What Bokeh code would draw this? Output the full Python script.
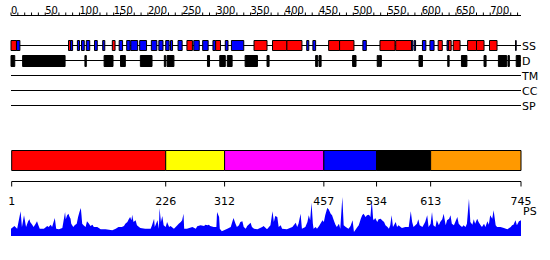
from bokeh.plotting import figure
from bokeh.models import Range1d, ColumnDataSource
from bokeh.core.properties import value
from bokeh.embed import file_html
from bokeh.resources import INLINE

# ---------------- data ----------------
seq_len = 745
ruler_minor = list(range(0, 741, 10))
ruler_labels = list(range(0, 701, 50))

# secondary structure: H = helix (red), E = strand (blue)
ss_start = [0, 8, 84, 87, 97, 103, 110, 122, 134, 148, 158, 169, 175, 188, 205, 216, 226, 233, 244, 257,
            267, 280, 295, 299, 313, 322, 355, 382, 403, 432, 441, 464, 480, 514, 539, 562, 585, 589, 601,
            612, 624, 637, 639, 646, 667, 680, 699, 737]
ss_end = [8, 13, 87, 90, 100, 107, 115, 126, 137, 152, 163, 174, 185, 198, 213, 222, 231, 236, 250, 265,
          275, 288, 299, 306, 317, 340, 374, 403, 425, 435, 445, 480, 501, 519, 561, 585, 587, 591, 606,
          618, 630, 639, 643, 656, 680, 691, 710, 738]
ss_type = ["H", "E", "H", "E", "E", "E", "E", "E", "E", "H", "E", "E", "E", "E", "E", "E", "E", "E", "E", "H",
           "E", "E", "E", "H", "E", "E", "H", "H", "H", "E", "E", "H", "H", "E", "H", "H", "E", "E", "E",
           "E", "H", "E", "H", "H", "H", "H", "H", "E"]

# disorder
d_start = [0, 17, 108, 136, 160, 189, 224, 228, 287, 305, 316, 342, 374, 445, 450, 499, 535, 538, 596,
           638, 658, 691, 712, 726, 738]
d_end = [5.5, 79, 110, 149, 167, 206, 226, 238, 290, 313, 323, 360, 377, 448, 453, 504, 537, 541, 601,
         640, 666, 694, 724, 728, 744]

track_names = ["SS", "D", "TM", "CC", "SP"]

# domains
dom_bounds = [1, 226, 312, 457, 534, 613, 745]
dom_colors = ["#ff0000", "#ffff00", "#ff00ff", "#0000ff", "#000000", "#ff9900"]

# PS profile (position, score)
ps_points = [
    (0, 7.3), (5, 10), (9, 7.3), (14, 24.7), (16, 9), (19, 20.7), (22, 9), (25, 14.7), (27, 16.7), (28, 14),
    (31, 11.3), (33, 9), (36, 12.3), (38, 14.7), (40, 10.7), (42, 7.3), (48, 7.3), (53, 10), (55, 9), (58, 11.3),
    (60, 9), (64, 18), (66, 7.3), (70, 6.7), (75, 8), (79, 24), (80, 16.7), (82, 20.7), (84, 22.3), (85, 20),
    (87, 17.3), (88, 12.3), (91, 9), (93, 10.7), (96, 12.3), (98, 19), (100, 24), (102, 28), (103, 20.7), (104, 12.3),
    (106, 10.7), (109, 9), (111, 14.7), (114, 12.3), (116, 10), (119, 11.3), (121, 9), (126, 9), (131, 6.7), (138, 6.7),
    (148, 5.7), (153, 7.3), (157, 9), (162, 9), (165, 10), (167, 12.3), (170, 14), (172, 16.7), (174, 19), (176, 15.7),
    (177, 21.3), (179, 14), (182, 15.7), (184, 10.7), (187, 9), (189, 8), (196, 7.3), (204, 7.3), (206, 10.7), (209, 17.3),
    (210, 9), (214, 15.7), (216, 7.3), (217, 28), (219, 14), (221, 20), (223, 10.7), (226, 9), (228, 14), (231, 9),
    (233, 10), (238, 7.3), (243, 10.7), (245, 12.3), (248, 14), (250, 15.7), (252, 22.3), (253, 7.3), (257, 7.3), (265, 9),
    (270, 7.3), (272, 9.7), (277, 10.7), (282, 10), (284, 11.3), (287, 10.7), (289, 11.3), (291, 10), (296, 9), (300, 9),
    (301, 24), (304, 19), (305, 7.3), (308, 4.7), (316, 7.3), (321, 9), (325, 18), (328, 12.3), (330, 9), (333, 10.7),
    (335, 14), (338, 14.7), (340, 9), (343, 7.3), (345, 10), (347, 11.3), (350, 13.3), (352, 9), (355, 7.3), (360, 6.7),
    (367, 9), (369, 10), (374, 6.7), (379, 10.7), (382, 24.7), (384, 14), (386, 20), (389, 19), (391, 9), (394, 10.7),
    (396, 7.3), (403, 6.7), (411, 9), (413, 10.7), (416, 13.3), (418, 9), (420, 12.3), (423, 22.3), (425, 7.3), (430, 9),
    (433, 14), (435, 20.7), (437, 15.7), (439, 33.3), (441, 12.3), (442, 7.3), (445, 9), (447, 7.3), (450, 10), (455, 15.7),
    (457, 14), (459, 20.7), (462, 28), (464, 26.7), (467, 22.3), (469, 20.7), (472, 14.7), (474, 11.3), (476, 9), (479, 12.3),
    (481, 7.3), (484, 39), (486, 10.7), (489, 9), (493, 7.3), (496, 10), (499, 15.7), (501, 4), (506, 9), (508, 10.7),
    (511, 17.3), (513, 20.7), (515, 22.3), (518, 19), (520, 20.7), (523, 21.3), (525, 19), (527, 35.7), (529, 17.3), (530, 15.7),
    (532, 18), (535, 14), (537, 16.7), (540, 17.3), (542, 15.7), (545, 14), (547, 10.7), (550, 9), (552, 7.3), (554, 10.7),
    (556, 20.7), (558, 9), (562, 14), (564, 9), (566, 10.7), (571, 8), (576, 9), (581, 9), (584, 24.7), (586, 14),
    (588, 9), (593, 12.3), (595, 16.7), (597, 10.7), (601, 9), (605, 14), (608, 20.7), (610, 9), (613, 12.3), (615, 24),
    (617, 10.7), (620, 9), (622, 15.7), (625, 10.7), (627, 14), (630, 16.7), (632, 22.3), (635, 10.7), (637, 15.7), (640, 17.3),
    (642, 20.7), (644, 12.3), (647, 10.7), (649, 14), (652, 19), (654, 12.3), (657, 10), (659, 9), (661, 10.7), (664, 9),
    (666, 12.3), (669, 37.3), (671, 14), (674, 11.3), (676, 16.7), (678, 12.3), (681, 17.3), (683, 14), (686, 10.7), (688, 9),
    (691, 12.3), (693, 9), (696, 14.7), (698, 11.3), (700, 20.7), (703, 17.3), (705, 25.7), (708, 10.7), (710, 9), (715, 9),
    (720, 8), (725, 6.7), (730, 9), (732, 10.7), (734, 11.3), (737, 15.7), (739, 10.7), (742, 14.7), (745, 15.7),
]
ps_pos = [a for a, b in ps_points]
ps_val = [b for a, b in ps_points]

# ---------------- layout ----------------
W, H = 550, 260
px0, px1 = 10.5, 520.5
k = (px1 - px0) / seq_len
FONT = value("DejaVu Sans")

p = figure(width=W, height=H, output_backend="svg", toolbar_location=None,
           x_range=Range1d(-px0 / k, seq_len + (W - px1) / k), y_range=Range1d(H, 0),
           x_axis_type=None, y_axis_type=None, min_border=0)
p.grid.visible = False
p.outline_line_color = None
p.background_fill_color = "white"
p.border_fill_color = "white"

# ruler
p.segment(x0=[0], y0=[15], x1=[seq_len], y1=[15], line_color="black", line_width=1)
p.segment(x0=ruler_minor, y0=[12] * len(ruler_minor), x1=ruler_minor, y1=[15] * len(ruler_minor),
          line_color="black", line_width=1)
p.text(x=ruler_labels, y=[9.5] * len(ruler_labels), text=[str(v) for v in ruler_labels],
       text_font=FONT, text_font_size="10px", text_align="left", text_baseline="alphabetic",
       text_color="black")

# track lines
track_y = [45, 60, 75, 90, 105]
p.segment(x0=[0] * 5, y0=track_y, x1=[seq_len] * 5, y1=track_y, line_color="black", line_width=1)
p.text(x=[seq_len] * 5, y=[y + 1 for y in track_y], text=track_names, x_offset=1,
       text_font=FONT, text_font_size="11px", text_align="left", text_baseline="middle",
       text_color="black")

# SS blocks
ss_src = ColumnDataSource(dict(left=ss_start, right=ss_end,
                               color=["#ff0000" if t == "H" else "#0000ff" for t in ss_type]))
p.quad(left="left", right="right", top=40, bottom=50, fill_color="color", line_color="black",
       line_width=1, source=ss_src)

# D blocks
p.quad(left=d_start, right=d_end, top=55, bottom=66, fill_color="black", line_color="black", line_width=1)

# domain bar
p.quad(left=dom_bounds[:-1], right=dom_bounds[1:], top=150, bottom=170, fill_color=dom_colors,
       line_color="black", line_width=1)

# domain axis
p.segment(x0=[dom_bounds[0]], y0=[181], x1=[dom_bounds[-1]], y1=[181], line_color="black", line_width=1)
p.segment(x0=dom_bounds, y0=[181] * len(dom_bounds), x1=dom_bounds, y1=[186] * len(dom_bounds),
          line_color="black", line_width=1)

# PS profile
base = 235.5
p.varea(x=ps_pos, y1=[base] * len(ps_pos), y2=[base - v for v in ps_val], fill_color="#0000ff")
p.text(x=[seq_len], y=[211], text=["PS"], x_offset=2, text_font=FONT, text_font_size="11px",
       text_align="left", text_baseline="middle", text_color="black")

p.text(x=dom_bounds, y=[200] * len(dom_bounds), text=[str(v) for v in dom_bounds],
       text_font=FONT, text_font_size="11px", text_align="center", text_baseline="alphabetic",
       text_color="black")

open("out.html", "w").write(file_html(p, INLINE))
